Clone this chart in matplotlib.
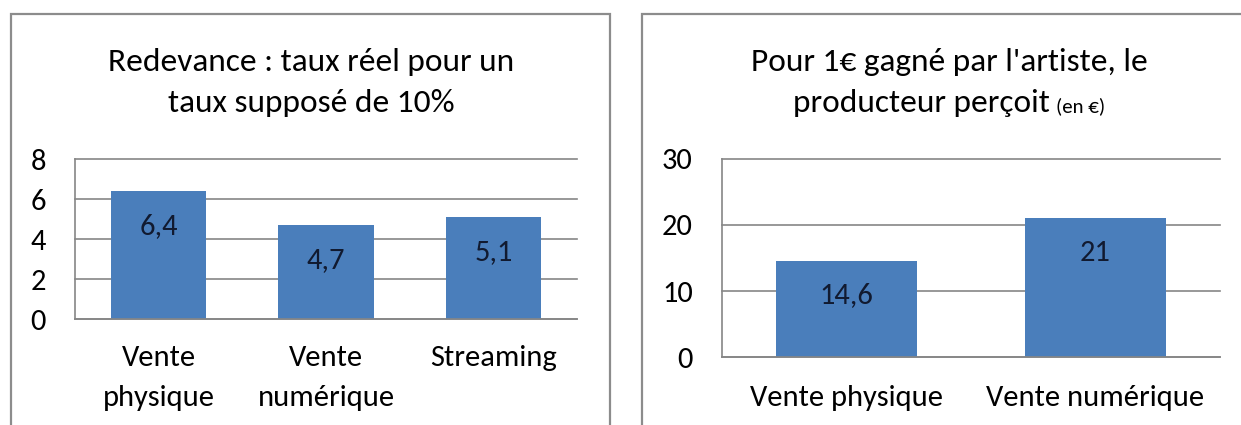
import matplotlib
matplotlib.use('Agg')
import matplotlib.pyplot as plt
from matplotlib import font_manager
from matplotlib.patches import Rectangle

# ---- data ----
left_categories = ["Vente\nphysique", "Vente\nnumérique", "Streaming"]
left_values = [6.4, 4.7, 5.1]
left_value_labels = ["6,4", "4,7", "5,1"]
left_yticks = [0, 2, 4, 6, 8]
left_title_lines = ["Redevance : taux réel pour un", "taux supposé de 10%"]

right_categories = ["Vente physique", "Vente numérique"]
right_values = [14.6, 21]
right_value_labels = ["14,6", "21"]
right_yticks = [0, 10, 20, 30]
right_title_line1 = "Pour 1€ gagné par l'artiste, le"
right_title_line2 = "producteur perçoit"
right_title_unit = "(en €)"

# ---- style ----
available = {f.name for f in font_manager.fontManager.ttflist}
family = 'Carlito' if 'Carlito' in available else 'Lato'
plt.rcParams['font.family'] = [family, 'DejaVu Sans']

BAR = '#4a7ebb'
GRID = '#868686'
BORDER = '#8c8c8c'
LABEL = '#111a30'
FS_TITLE = 24
FS_TICK = 22
FS_CAT = 22
FS_VAL = 22

W, H = 1241, 425
fig = plt.figure(figsize=(W / 100, H / 100), dpi=100)
fig.patch.set_facecolor('white')


def fx(px):
    return px / W


def fy(py):
    return 1 - py / H


# panel borders
fig.patches.append(Rectangle((fx(11), -0.2), fx(610) - fx(11), fy(14) + 0.2,
                             transform=fig.transFigure, fill=False,
                             edgecolor=BORDER, linewidth=1.6, clip_on=False))
fig.patches.append(Rectangle((fx(642), -0.2), 1.0, fy(14) + 0.2,
                             transform=fig.transFigure, fill=False,
                             edgecolor=BORDER, linewidth=1.6, clip_on=False))


def style_axes(ax, cats, values, vlabels, yticks, cat_pad):
    x = list(range(len(cats)))
    ax.bar(x, values, width=0.57, color=BAR, zorder=2)
    ax.set_xlim(-0.5, len(cats) - 0.5)
    ax.set_ylim(yticks[0], yticks[-1])
    ax.set_yticks(yticks)
    ax.set_yticklabels([str(t) for t in yticks], fontsize=FS_TICK)
    ax.set_xticks(x)
    ax.set_xticklabels(cats, fontsize=FS_CAT, linespacing=1.64)
    ax.tick_params(axis='y', length=0, pad=21)
    ax.tick_params(axis='x', length=0, pad=cat_pad)
    ax.set_axisbelow(True)
    ax.yaxis.grid(True, color=GRID, linewidth=1.2)
    for gl in ax.yaxis.get_gridlines():
        gl.set_clip_on(False)
    for s in ['top', 'right']:
        ax.spines[s].set_visible(False)
    for s in ['left', 'bottom']:
        ax.spines[s].set_color(GRID)
        ax.spines[s].set_linewidth(1.2)
    for i, (v, lab) in enumerate(zip(values, vlabels)):
        ax.annotate(lab, xy=(i, v), xytext=(0, -25), textcoords='offset points',
                    ha='center', va='center', fontsize=FS_VAL, color=LABEL,
                    zorder=3)


axL = fig.add_axes([fx(75), fy(319), fx(577) - fx(75), (319 - 159) / H])
style_axes(axL, left_categories, left_values, left_value_labels, left_yticks, 19)

axR = fig.add_axes([fx(722), fy(357), fx(1220) - fx(722), (357 - 159) / H])
style_axes(axR, right_categories, right_values, right_value_labels, right_yticks, 20.5)

# titles
fig.text(fx(311), fy(71), left_title_lines[0], ha='center', va='baseline',
         fontsize=FS_TITLE, color='black')
fig.text(fx(311), fy(112), left_title_lines[1], ha='center', va='baseline',
         fontsize=FS_TITLE, color='black')
fig.text(fx(949), fy(71), right_title_line1, ha='center', va='baseline',
         fontsize=FS_TITLE, color='black')

t_main = fig.text(0, fy(112), right_title_line2, ha='left', va='baseline',
                  fontsize=FS_TITLE, color='black')
t_unit = fig.text(0, fy(112), right_title_unit, ha='left', va='baseline',
                  fontsize=15, color='black')
fig.canvas.draw()
r = fig.canvas.get_renderer()
w_main = t_main.get_window_extent(r).width
w_unit = t_unit.get_window_extent(r).width
gap = 6
total = w_main + gap + w_unit
start = 949 - total / 2
t_main.set_x(fx(start))
t_unit.set_x(fx(start + w_main + gap))

fig.savefig('out.png', dpi=100, facecolor='white')
